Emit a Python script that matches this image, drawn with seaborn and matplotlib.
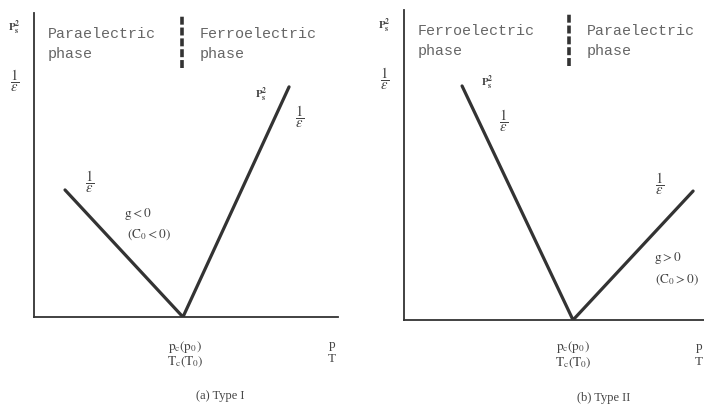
import pandas as pd
import matplotlib.pyplot as plt
import seaborn as sns

# Esquema das duas transicoes (unidades arbitrarias, eixo 0..10)
# Tipo I: 1/eps cai ate Tc, depois Ps^2 / 1/eps sobe
x_tipo1 = [1.02, 4.90, 8.39]
y_tipo1 = [4.18, 0.00, 7.57]
tc_tipo1 = 4.87

# Tipo II: Ps^2 / 1/eps cai ate Tc, depois 1/eps sobe
x_tipo2 = [1.91, 5.56, 9.51]
y_tipo2 = [7.55, 0.00, 4.16]
tc_tipo2 = 5.43

fases_tipo1 = ['Paraelectric\nphase', 'Ferroelectric\nphase']
fases_tipo2 = ['Ferroelectric\nphase', 'Paraelectric\nphase']
legendas = ['(a) Type I', '(b) Type II']

sns.set_style('white')
plt.rcParams['font.family'] = ['Liberation Serif', 'DejaVu Serif']
plt.rcParams['mathtext.fontset'] = 'stix'

cor = '#333333'
cor_txt = '#444444'
mono = 'Liberation Mono'
inv_eps = r'$\dfrac{1}{\epsilon}$'
tam_eps = 10.5

fig = plt.figure(figsize=(7.04, 4.05), dpi=100)
ax1 = fig.add_axes([34/704, 88/405, 304/704, 304/405])
ax2 = fig.add_axes([404/704, 85/405, 304/704, 310/405])

df1 = pd.DataFrame({'x': x_tipo1, 'y': y_tipo1})
df2 = pd.DataFrame({'x': x_tipo2, 'y': y_tipo2})

for ax, df, tc, fases in [(ax1, df1, tc_tipo1, fases_tipo1), (ax2, df2, tc_tipo2, fases_tipo2)]:
    sns.lineplot(data=df, x='x', y='y', sort=False, ax=ax, color=cor, linewidth=2.3,
                 solid_joinstyle='miter')
    ax.set_xlim(0, 10)
    ax.set_ylim(0, 10)
    ax.set_xticks([])
    ax.set_yticks([])
    ax.set_xlabel('')
    ax.set_ylabel('')
    for s in ['top', 'right']:
        ax.spines[s].set_visible(False)
    for s in ['left', 'bottom']:
        ax.spines[s].set_color(cor)
        ax.spines[s].set_linewidth(1.3)
    # divisoria tracejada entre as fases
    ax.vlines(tc, 8.2, 9.9, colors=cor, linewidth=2.6, linestyles=(0, (2.2, 0.8)))
    # rotulos do eixo y
    ax.text(-0.64, 9.5, r'$\mathbf{P_s^2}$', ha='center', va='center', fontsize=8,
            color=cor_txt, clip_on=False)
    ax.text(-0.64, 7.78, inv_eps, ha='center', va='center', fontsize=tam_eps,
            color=cor_txt, clip_on=False)
    ax.text(0.45, 9.55, fases[0], ha='left', va='top', fontsize=10.8, family=mono,
            color='#666666', linespacing=1.55)
    ax.text(tc + 0.57, 9.55, fases[1], ha='left', va='top', fontsize=10.8, family=mono,
            color='#666666', linespacing=1.55)

# Painel (a)
ax1.text(7.47, 7.3, r'$\mathbf{P_s^2}$', ha='center', va='center', fontsize=8, color=cor_txt)
ax1.text(8.75, 6.6, inv_eps, ha='center', va='center', fontsize=tam_eps, color=cor_txt)
ax1.text(1.84, 4.44, inv_eps, ha='center', va='center', fontsize=tam_eps, color=cor_txt)
ax1.text(3.42, 3.39, r'$\mathrm{g < 0}$', ha='center', va='center', fontsize=9.5, color=cor_txt)
ax1.text(3.78, 2.7, r'$\mathrm{(C_0 < 0)}$', ha='center', va='center', fontsize=9.5, color=cor_txt)
ax1.text(4.97, -0.99, r'$\mathrm{p_c(p_0)}$', ha='center', va='center', fontsize=9.5,
         color=cor_txt, clip_on=False)
ax1.text(4.97, -1.48, r'$\mathrm{T_c(T_0)}$', ha='center', va='center', fontsize=9.5,
         color=cor_txt, clip_on=False)
ax1.text(9.8, -0.92, 'p', ha='center', va='center', fontsize=9.5, color=cor_txt, clip_on=False)
ax1.text(9.8, -1.38, 'T', ha='center', va='center', fontsize=9.5, color=cor_txt, clip_on=False)
ax1.text(6.12, -2.6, legendas[0], ha='center', va='center', fontsize=9, color=cor_txt,
         clip_on=False)

# Painel (b)
ax2.text(2.73, 7.65, r'$\mathbf{P_s^2}$', ha='center', va='center', fontsize=8, color=cor_txt)
ax2.text(3.29, 6.42, inv_eps, ha='center', va='center', fontsize=tam_eps, color=cor_txt)
ax2.text(8.42, 4.39, inv_eps, ha='center', va='center', fontsize=tam_eps, color=cor_txt)
ax2.text(8.68, 2.0, r'$\mathrm{g > 0}$', ha='center', va='center', fontsize=9.5, color=cor_txt)
ax2.text(8.98, 1.3, r'$\mathrm{(C_0 > 0)}$', ha='center', va='center', fontsize=9.5, color=cor_txt)
ax2.text(5.56, -0.87, r'$\mathrm{p_c(p_0)}$', ha='center', va='center', fontsize=9.5,
         color=cor_txt, clip_on=False)
ax2.text(5.56, -1.39, r'$\mathrm{T_c(T_0)}$', ha='center', va='center', fontsize=9.5,
         color=cor_txt, clip_on=False)
ax2.text(9.83, -0.87, 'p', ha='right', va='center', fontsize=9.5, color=cor_txt, clip_on=False)
ax2.text(9.83, -1.35, 'T', ha='right', va='center', fontsize=9.5, color=cor_txt, clip_on=False)
ax2.text(6.58, -2.52, legendas[1], ha='center', va='center', fontsize=9, color=cor_txt,
         clip_on=False)

fig.savefig('out.png', dpi=100)
